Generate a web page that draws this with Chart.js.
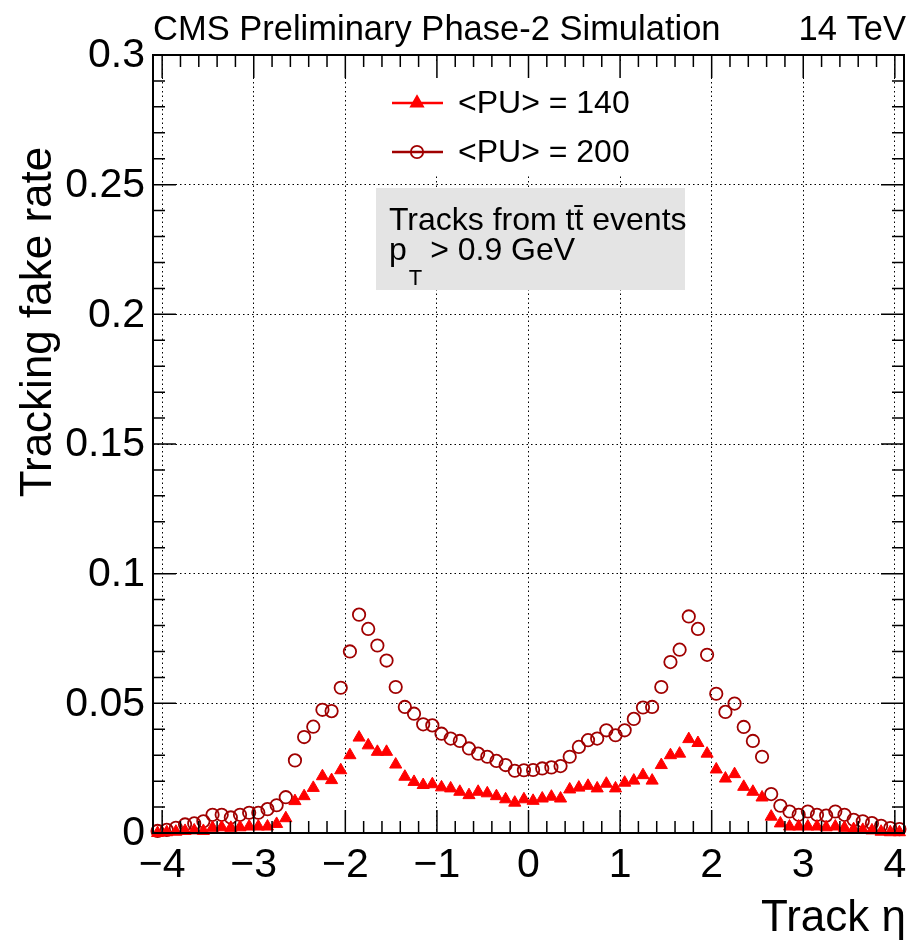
<!DOCTYPE html>
<html>
<head>
<meta charset="utf-8">
<title>Tracking fake rate</title>
<script src="https://cdn.jsdelivr.net/npm/chart.js@4.4.0/dist/chart.umd.min.js"></script>
<style>
    html, body { margin: 0; padding: 0; background: #fff; }
    #wrap { position: relative; width: 912px; height: 946px; }
</style>
</head>
<body>
<div id="wrap"><canvas id="fake_rate_chart"></canvas></div>
<script>
// bin centres in track eta
const etaBins = [
    -4.05, -3.95, -3.85, -3.75, -3.65, -3.55, -3.45, -3.35, -3.25, -3.15,
    -3.05, -2.95, -2.85, -2.75, -2.65, -2.55, -2.45, -2.35, -2.25, -2.15,
    -2.05, -1.95, -1.85, -1.75, -1.65, -1.55, -1.45, -1.35, -1.25, -1.15,
    -1.05, -0.95, -0.85, -0.75, -0.65, -0.55, -0.45, -0.35, -0.25, -0.15,
    -0.05, 0.05, 0.15, 0.25, 0.35, 0.45, 0.55, 0.65, 0.75, 0.85,
    0.95, 1.05, 1.15, 1.25, 1.35, 1.45, 1.55, 1.65, 1.75, 1.85,
    1.95, 2.05, 2.15, 2.25, 2.35, 2.45, 2.55, 2.65, 2.75, 2.85,
    2.95, 3.05, 3.15, 3.25, 3.35, 3.45, 3.55, 3.65, 3.75, 3.85,
    3.95, 4.05
];

// <PU> = 140
const fakeRatePU140 = [
    0.0000, 0.0003, 0.0005, 0.0008, 0.0010, 0.0008, 0.0020, 0.0022, 0.0020, 0.0022,
    0.0025, 0.0025, 0.0025, 0.0035, 0.0057, 0.0123, 0.0142, 0.0174, 0.0219, 0.0204,
    0.0242, 0.0300, 0.0368, 0.0338, 0.0313, 0.0313, 0.0264, 0.0217, 0.0197, 0.0185,
    0.0188, 0.0176, 0.0172, 0.0159, 0.0146, 0.0159, 0.0153, 0.0142, 0.0130, 0.0117,
    0.0130, 0.0124, 0.0133, 0.0140, 0.0133, 0.0168, 0.0175, 0.0182, 0.0172, 0.0190,
    0.0172, 0.0194, 0.0202, 0.0223, 0.0202, 0.0262, 0.0300, 0.0306, 0.0362, 0.0347,
    0.0306, 0.0245, 0.0210, 0.0227, 0.0178, 0.0159, 0.0137, 0.0063, 0.0037, 0.0025,
    0.0025, 0.0025, 0.0025, 0.0022, 0.0025, 0.0020, 0.0015, 0.0012, 0.0010, 0.0005,
    0.0003, 0.0003
];

// <PU> = 200
const fakeRatePU200 = [
    0.0008, 0.0012, 0.0020, 0.0033, 0.0037, 0.0045, 0.0070, 0.0070, 0.0060, 0.0070,
    0.0078, 0.0078, 0.0092, 0.0107, 0.0138, 0.0280, 0.0370, 0.0410, 0.0475, 0.0470,
    0.0560, 0.0700, 0.0842, 0.0787, 0.0723, 0.0665, 0.0563, 0.0486, 0.0460, 0.0419,
    0.0415, 0.0383, 0.0364, 0.0355, 0.0326, 0.0306, 0.0294, 0.0278, 0.0262, 0.0240,
    0.0242, 0.0243, 0.0249, 0.0253, 0.0258, 0.0294, 0.0332, 0.0358, 0.0364, 0.0396,
    0.0377, 0.0396, 0.0440, 0.0484, 0.0486, 0.0563, 0.0659, 0.0707, 0.0835, 0.0787,
    0.0687, 0.0537, 0.0467, 0.0499, 0.0409, 0.0355, 0.0294, 0.0150, 0.0105, 0.0083,
    0.0070, 0.0083, 0.0070, 0.0067, 0.0083, 0.0070, 0.0051, 0.0045, 0.0038, 0.0028,
    0.0019, 0.0015
];

const xTickValues = [-4, -3, -2, -1, 0, 1, 2, 3, 4];
const xTickLabels = ['\u22124', '\u22123', '\u22122', '\u22121', '0', '1', '2', '3', '4'];
const yTickValues = [0, 0.05, 0.1, 0.15, 0.2, 0.25, 0.3];
const yTickLabels = ['0', '0.05', '0.1', '0.15', '0.2', '0.25', '0.3'];

const seriesNames = ['<PU> = 140', '<PU> = 200'];
const FONT = '"Liberation Sans", Arial, Helvetica, sans-serif';
const RED = '#ff0000';
const DARK_RED = '#a00000';
const TRI_R = 7;
const CIRC_R = 6.2;

function toPoints(values) {
    return etaBins.map(function (x, i) { return { x: x, y: values[i] }; });
}

// frame with inward ticks on all four sides, labels and texts, drawn over the canvas
const rootFrame = {
    id: 'rootFrame',
    beforeDatasetsDraw(chart) {
        const ctx = chart.ctx;
        ctx.save();
        // legend pad hides the grid behind it
        ctx.fillStyle = '#ffffff';
        ctx.fillRect(380, 64, 262, 112);
        // selection box
        ctx.fillStyle = '#e4e4e4';
        ctx.fillRect(376, 188, 309, 102);
        ctx.restore();
    },
    afterDraw(chart) {
        const ctx = chart.ctx;
        const a = chart.chartArea;
        const xs = chart.scales.x;
        const ys = chart.scales.y;
        ctx.save();

        // frame
        ctx.strokeStyle = '#000';
        ctx.lineWidth = 2;
        ctx.strokeRect(a.left, a.top, a.right - a.left, a.bottom - a.top);

        // x ticks, bottom and top
        ctx.lineWidth = 1.5;
        ctx.beginPath();
        for (let i = -20; i <= 20; i++) {
            const px = xs.getPixelForValue(i * 0.2);
            const len = (i % 5 === 0) ? 23 : 12;
            ctx.moveTo(px, a.bottom);
            ctx.lineTo(px, a.bottom - len);
            ctx.moveTo(px, a.top);
            ctx.lineTo(px, a.top + len);
        }
        // y ticks, left and right
        for (let i = 0; i <= 30; i++) {
            const py = ys.getPixelForValue(i * 0.01);
            const len = (i % 5 === 0) ? 23 : 12;
            ctx.moveTo(a.left, py);
            ctx.lineTo(a.left + len, py);
            ctx.moveTo(a.right, py);
            ctx.lineTo(a.right - len, py);
        }
        ctx.stroke();

        // tick labels
        ctx.fillStyle = '#000';
        ctx.font = '41px ' + FONT;
        ctx.textAlign = 'center';
        ctx.textBaseline = 'alphabetic';
        xTickValues.forEach(function (v, i) {
            ctx.fillText(xTickLabels[i], xs.getPixelForValue(v), 877);
        });
        ctx.textAlign = 'right';
        ctx.textBaseline = 'middle';
        yTickValues.forEach(function (v, i) {
            ctx.fillText(yTickLabels[i], a.left - 8, ys.getPixelForValue(v) + 1);
        });

        // axis titles
        ctx.font = '44px ' + FONT;
        ctx.textBaseline = 'alphabetic';
        ctx.textAlign = 'right';
        ctx.fillText('Track \u03b7', 906, 931);
        ctx.save();
        ctx.translate(51, 322);
        ctx.rotate(-Math.PI / 2);
        ctx.textAlign = 'center';
        ctx.fillText('Tracking fake rate', 0, 0);
        ctx.restore();

        // header
        ctx.font = '34.5px ' + FONT;
        ctx.textAlign = 'left';
        ctx.fillText('CMS Preliminary Phase-2 Simulation', 153, 40);
        ctx.textAlign = 'right';
        ctx.fillText('14 TeV', 906, 40);

        // legend
        const rows = [
            { y: 103, color: RED, style: 'triangle', fill: RED, radius: TRI_R },
            { y: 152, color: DARK_RED, style: 'circle', fill: 'rgba(0,0,0,0)', radius: CIRC_R }
        ];
        rows.forEach(function (r, i) {
            ctx.strokeStyle = r.color;
            ctx.lineWidth = 2.5;
            ctx.beginPath();
            ctx.moveTo(392, r.y);
            ctx.lineTo(443, r.y);
            ctx.stroke();
            ctx.fillStyle = r.fill;
            ctx.lineWidth = 1.8;
            Chart.helpers.drawPoint(ctx, { pointStyle: r.style, radius: r.radius, rotation: 0, borderWidth: 1.8 }, 417, r.y);
            ctx.fillStyle = '#000';
            ctx.font = '32px ' + FONT;
            ctx.textAlign = 'left';
            ctx.textBaseline = 'middle';
            ctx.fillText(seriesNames[i], 458, r.y + 1);
        });

        // selection text
        ctx.textBaseline = 'alphabetic';
        ctx.font = '32px ' + FONT;
        ctx.fillText('Tracks from tt\u0304 events', 389, 230);
        ctx.fillText('p', 389, 260);
        const pw = ctx.measureText('p').width;
        ctx.font = '22px ' + FONT;
        ctx.fillText('T', 389 + pw + 2, 285);
        const tw = ctx.measureText('T').width;
        ctx.font = '32px ' + FONT;
        ctx.fillText(' > 0.9 GeV', 389 + pw + tw + 1, 260);

        ctx.restore();
    }
};

let ctx = document.getElementById('fake_rate_chart').getContext('2d');
const fakeRateChart = new Chart(ctx, {
    type: 'scatter',
    data: {
        datasets: [{
            label: seriesNames[0],
            data: toPoints(fakeRatePU140),
            pointStyle: 'triangle',
            pointRadius: TRI_R,
            pointBackgroundColor: RED,
            pointBorderColor: RED,
            pointBorderWidth: 1,
            showLine: false,
            clip: false
        }, {
            label: seriesNames[1],
            data: toPoints(fakeRatePU200),
            pointStyle: 'circle',
            pointRadius: CIRC_R,
            pointBackgroundColor: 'rgba(0,0,0,0)',
            pointBorderColor: DARK_RED,
            pointBorderWidth: 1.8,
            showLine: false,
            clip: false
        }]
    },
    options: {
        responsive: true,
        maintainAspectRatio: false,
        animation: false,
        layout: {
            padding: { left: 153, top: 55, right: 2, bottom: 113 }
        },
        plugins: {
            legend: { display: false },
            tooltip: { enabled: false }
        },
        scales: {
            x: {
                type: 'linear',
                min: -4.1,
                max: 4.1,
                afterBuildTicks: function (scale) {
                    scale.ticks = xTickValues.map(function (v) { return { value: v }; });
                },
                ticks: { display: false },
                grid: { color: '#000', lineWidth: 1, drawTicks: false },
                border: { display: false, dash: [1.5, 3] }
            },
            y: {
                type: 'linear',
                min: 0,
                max: 0.3,
                afterBuildTicks: function (scale) {
                    scale.ticks = yTickValues.map(function (v) { return { value: v }; });
                },
                ticks: { display: false },
                grid: { color: '#000', lineWidth: 1, drawTicks: false },
                border: { display: false, dash: [1.5, 3] }
            }
        }
    },
    plugins: [rootFrame]
});
</script>
</body>
</html>
